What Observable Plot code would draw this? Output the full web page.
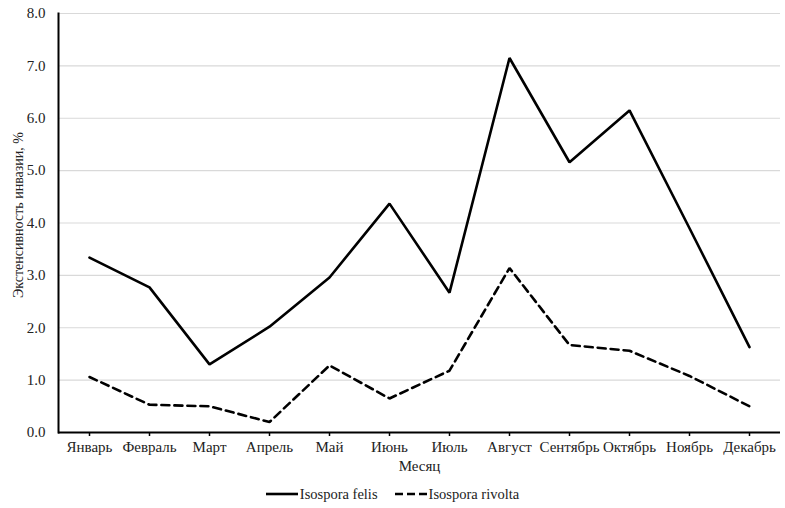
<!DOCTYPE html>
<html>
<head>
<meta charset="utf-8">
<script src="https://cdn.jsdelivr.net/npm/d3@7"></script>
<script src="https://cdn.jsdelivr.net/npm/@observablehq/plot@0.6"></script>
<style>
  html, body { margin: 0; padding: 0; background: #fff; }
  #chart { width: 785px; }
  .legend { display: flex; justify-content: center; align-items: center; gap: 17px;
    font-family: "Liberation Serif", serif; font-size: 14.5px; color: #222; height: 28px; }
  .legend span { display: inline-flex; align-items: center; gap: 2px; }
</style>
</head>
<body>
<div id="chart"></div>
<script>
const months = ["Январь","Февраль","Март","Апрель","Май","Июнь","Июль","Август","Сентябрь","Октябрь","Ноябрь","Декабрь"];
const felis   = [3.34, 2.77, 1.30, 2.02, 2.96, 4.37, 2.67, 7.15, 5.16, 6.15, 3.90, 1.63];
const rivolta = [1.06, 0.53, 0.50, 0.20, 1.28, 0.65, 1.18, 3.14, 1.67, 1.56, 1.08, 0.50];
const yTicks = [0, 1, 2, 3, 4, 5, 6, 7, 8];
const seriesNames = ["Isospora felis", "Isospora rivolta"];

const data = [];
months.forEach((m, i) => {
  data.push({month: m, value: felis[i], series: seriesNames[0]});
  data.push({month: m, value: rivolta[i], series: seriesNames[1]});
});

const font = "Liberation Serif, serif";

const chart = Plot.plot({
  width: 785,
  height: 480,
  marginLeft: 58,
  marginRight: 5,
  marginTop: 13,
  marginBottom: 48,
  style: { fontFamily: font, fontSize: "15px", color: "#222", background: "#fff" },
  x: { type: "point", domain: months, padding: 0.5, label: null },
  y: { domain: [0, 8], label: null },
  marks: [
    Plot.gridY(yTicks, { stroke: "#d9d9d9", strokeOpacity: 1, strokeWidth: 1.2 }),
    Plot.axisY(yTicks, { tickSize: 0, tickPadding: 13, tickFormat: d3.format(".1f"), fill: "#222", fontSize: 15, fontFamily: font }),
    Plot.axisX(months, { tickSize: 4, tickPadding: 5, stroke: "#000", strokeWidth: 1.5, fill: "#222", fontSize: 15, fontFamily: font }),
    Plot.ruleY([0], { stroke: "#000", strokeWidth: 2 }),
    Plot.frame({ anchor: "left", stroke: "#000", strokeWidth: 2 }),
    Plot.line(data.filter(d => d.series === seriesNames[0]), {
      x: "month", y: "value", stroke: "#000", strokeWidth: 2.6, strokeLinejoin: "miter"
    }),
    Plot.line(data.filter(d => d.series === seriesNames[1]), {
      x: "month", y: "value", stroke: "#000", strokeWidth: 2.6, strokeDasharray: "8,5", strokeLinejoin: "miter"
    }),
    Plot.text(["Экстенсивность инвазии, %"], {
      frameAnchor: "left", dx: -40, dy: -8, rotate: -90, textAnchor: "middle", fill: "#222", fontSize: 14, fontFamily: font
    }),
    Plot.text(["Месяц"], {
      frameAnchor: "bottom", dy: 38, fill: "#222", fontSize: 15, fontFamily: font
    })
  ]
});
document.getElementById("chart").appendChild(chart);

const legend = document.createElement("div");
legend.className = "legend";
const dashes = [null, "8,4"];
seriesNames.forEach((name, i) => {
  const s = document.createElement("span");
  s.innerHTML = `<svg width="32" height="8"><line x1="0" y1="4" x2="32" y2="4" stroke="#000" stroke-width="2.6" ${dashes[i] ? `stroke-dasharray="${dashes[i]}"` : ""}/></svg>${name}`;
  legend.appendChild(s);
});
document.body.appendChild(legend);
</script>
</body>
</html>
